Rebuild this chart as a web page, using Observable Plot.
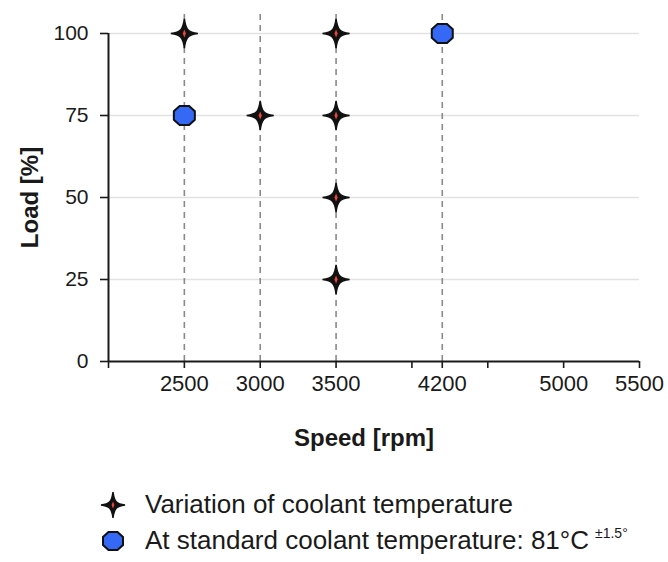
<!DOCTYPE html>
<html><head><meta charset="utf-8">
<script src="https://cdn.jsdelivr.net/npm/d3@7"></script>
<script src="https://cdn.jsdelivr.net/npm/@observablehq/plot@0.6"></script>
<style>
body{margin:0;background:#fff;font-family:"Liberation Sans",Arial,sans-serif;}
#chart{width:668px;height:562px;position:relative;overflow:hidden;background:#fff}
.leg{position:absolute;left:0;height:36px;display:flex;align-items:center;font-size:26px;color:#1a1a1a;white-space:nowrap}
.leg svg{position:absolute;left:96px;top:3px}
.leg span.t{position:absolute;left:145px;top:50%;transform:translateY(-52%)}
sup{font-size:14px;vertical-align:0;position:relative;top:-11px;margin-left:6px}
</style></head><body><div id="chart"></div>
<script>
// ---- data ----
const varSpeed = [2500, 3500, 3000, 3500, 3500, 3500];
const varLoad  = [100, 100, 75, 75, 50, 25];
const stdSpeed = [2500, 4200];
const stdLoad  = [75, 100];
const dashSpeeds = [2500, 3000, 3500, 4200];
const gridLoads = [25, 50, 75, 100];
const xTicks = [2000, 2500, 3000, 3500, 4000, 4200, 4500, 5000, 5500];
const xLabels = [2500, 3000, 3500, 4200, 5000, 5500];
const yTicks = [0, 25, 50, 75, 100];
const xTitle = "Speed [rpm]";
const yTitle = "Load [%]";
const legendLabels = ["Variation of coolant temperature", "At standard coolant temperature: 81°C"];
const legendSup = "±1.5°";

// ---- custom symbols ----
const star = {draw(ctx, size){
  const r = Math.sqrt(size/Math.PI), w = r, h = r*1.08, a = r*0.1, b = r*0.28;
  ctx.moveTo(0,-h);
  ctx.bezierCurveTo(a,-b, b,-a, w,0);
  ctx.bezierCurveTo(b,a, a,b, 0,h);
  ctx.bezierCurveTo(-a,b, -b,a, -w,0);
  ctx.bezierCurveTo(-b,-a, -a,-b, 0,-h);
  ctx.closePath();
}};
const sliver = {draw(ctx, size){
  const r = Math.sqrt(size/Math.PI);
  ctx.moveTo(0,-r); ctx.lineTo(r*0.4,0); ctx.lineTo(0,r); ctx.lineTo(-r*0.4,0); ctx.closePath();
}};
const octagon = {draw(ctx, size){
  const r = Math.sqrt(size/Math.PI), w = r, h = r*0.9, a = w*0.45, b = h*0.45;
  ctx.moveTo(-a,-h); ctx.lineTo(a,-h); ctx.lineTo(w,-b); ctx.lineTo(w,b);
  ctx.lineTo(a,h); ctx.lineTo(-a,h); ctx.lineTo(-w,b); ctx.lineTo(-w,-b); ctx.closePath();
}};

const varData = varSpeed.map((s,i)=>({speed:s, load:varLoad[i]}));
const stdData = stdSpeed.map((s,i)=>({speed:s, load:stdLoad[i]}));

const plot = Plot.plot({
  width: 668, height: 470,
  marginTop: 33, marginBottom: 109, marginLeft: 108, marginRight: 29,
  x: {domain: [2000, 5500]},
  y: {domain: [0, 100]},
  style: {fontFamily: "'Liberation Sans', Arial, sans-serif", background: "white", color: "#1a1a1a", overflow: "visible"},
  marks: [
    Plot.ruleY(gridLoads, {stroke: "#e2e2e2", strokeWidth: 1.5}),
    Plot.ruleX(dashSpeeds, {y1: 0, y2: 106, stroke: "#8a8a8a", strokeWidth: 1.6, strokeDasharray: "6,5"}),
    Plot.ruleY([0], {stroke: "#1a1a1a", strokeWidth: 2}),
    Plot.ruleX([2000], {stroke: "#1a1a1a", strokeWidth: 2}),
    Plot.axisY(yTicks, {tickSize: 8, tickPadding: 12, fontSize: 21, strokeWidth: 1.6, label: null}),
    Plot.axisX(xTicks, {tickSize: 7, tickPadding: 7, fontSize: 22, strokeWidth: 1.6, label: null,
      tickFormat: d => xLabels.includes(d) ? String(d) : ""}),
    Plot.dot(varData, {x: "speed", y: "load", symbol: star, r: 13.5, fill: "#111", stroke: "#111", strokeWidth: 1.5}),
    Plot.dot(varData, {x: "speed", y: "load", symbol: sliver, r: 4, fill: "#e8453c"}),
    Plot.dot(stdData, {x: "speed", y: "load", symbol: octagon, r: 10.5, fill: "#3468f5", stroke: "#111", strokeWidth: 2}),
    Plot.text([xTitle], {text: d => d, frameAnchor: "bottom", dy: 84, dx: -10, fontSize: 24, fontWeight: "bold"}),
    Plot.text([yTitle], {text: d => d, frameAnchor: "left", textAnchor: "middle", dx: -78, rotate: -90, fontSize: 24, fontWeight: "bold"})
  ]
});
const chart = document.getElementById("chart");
chart.appendChild(plot);

// ---- legend ----
function icon(sym, r, fill, stroke, sw, extra){
  const ns = "http://www.w3.org/2000/svg";
  const svg = document.createElementNS(ns, "svg");
  svg.setAttribute("width", 34); svg.setAttribute("height", 30);
  const p = document.createElementNS(ns, "path");
  p.setAttribute("transform", "translate(17,15)");
  p.setAttribute("d", d3.symbol(sym, r*r*Math.PI)());
  p.setAttribute("fill", fill);
  if (stroke) { p.setAttribute("stroke", stroke); p.setAttribute("stroke-width", sw); }
  svg.appendChild(p);
  if (extra) {
    const q = document.createElementNS(ns, "path");
    q.setAttribute("transform", "translate(17,15)");
    q.setAttribute("d", d3.symbol(extra.sym, extra.r*extra.r*Math.PI)());
    q.setAttribute("fill", extra.fill);
    svg.appendChild(q);
  }
  return svg;
}
const rows = [
  {top: 487, svg: icon(star, 12, "#111", "#111", 1.5, {sym: sliver, r: 3.5, fill: "#e8453c"}), text: legendLabels[0], sup: null},
  {top: 523, svg: icon(octagon, 10, "#3468f5", "#111", 2), text: legendLabels[1], sup: legendSup}
];
rows.forEach(r => {
  const div = document.createElement("div");
  div.className = "leg"; div.style.top = r.top + "px"; div.style.width = "668px";
  div.appendChild(r.svg);
  const t = document.createElement("span"); t.className = "t"; t.textContent = r.text;
  if (r.sup) { const s = document.createElement("sup"); s.textContent = r.sup; t.appendChild(s); }
  div.appendChild(t);
  chart.appendChild(div);
});
</script></body></html>
